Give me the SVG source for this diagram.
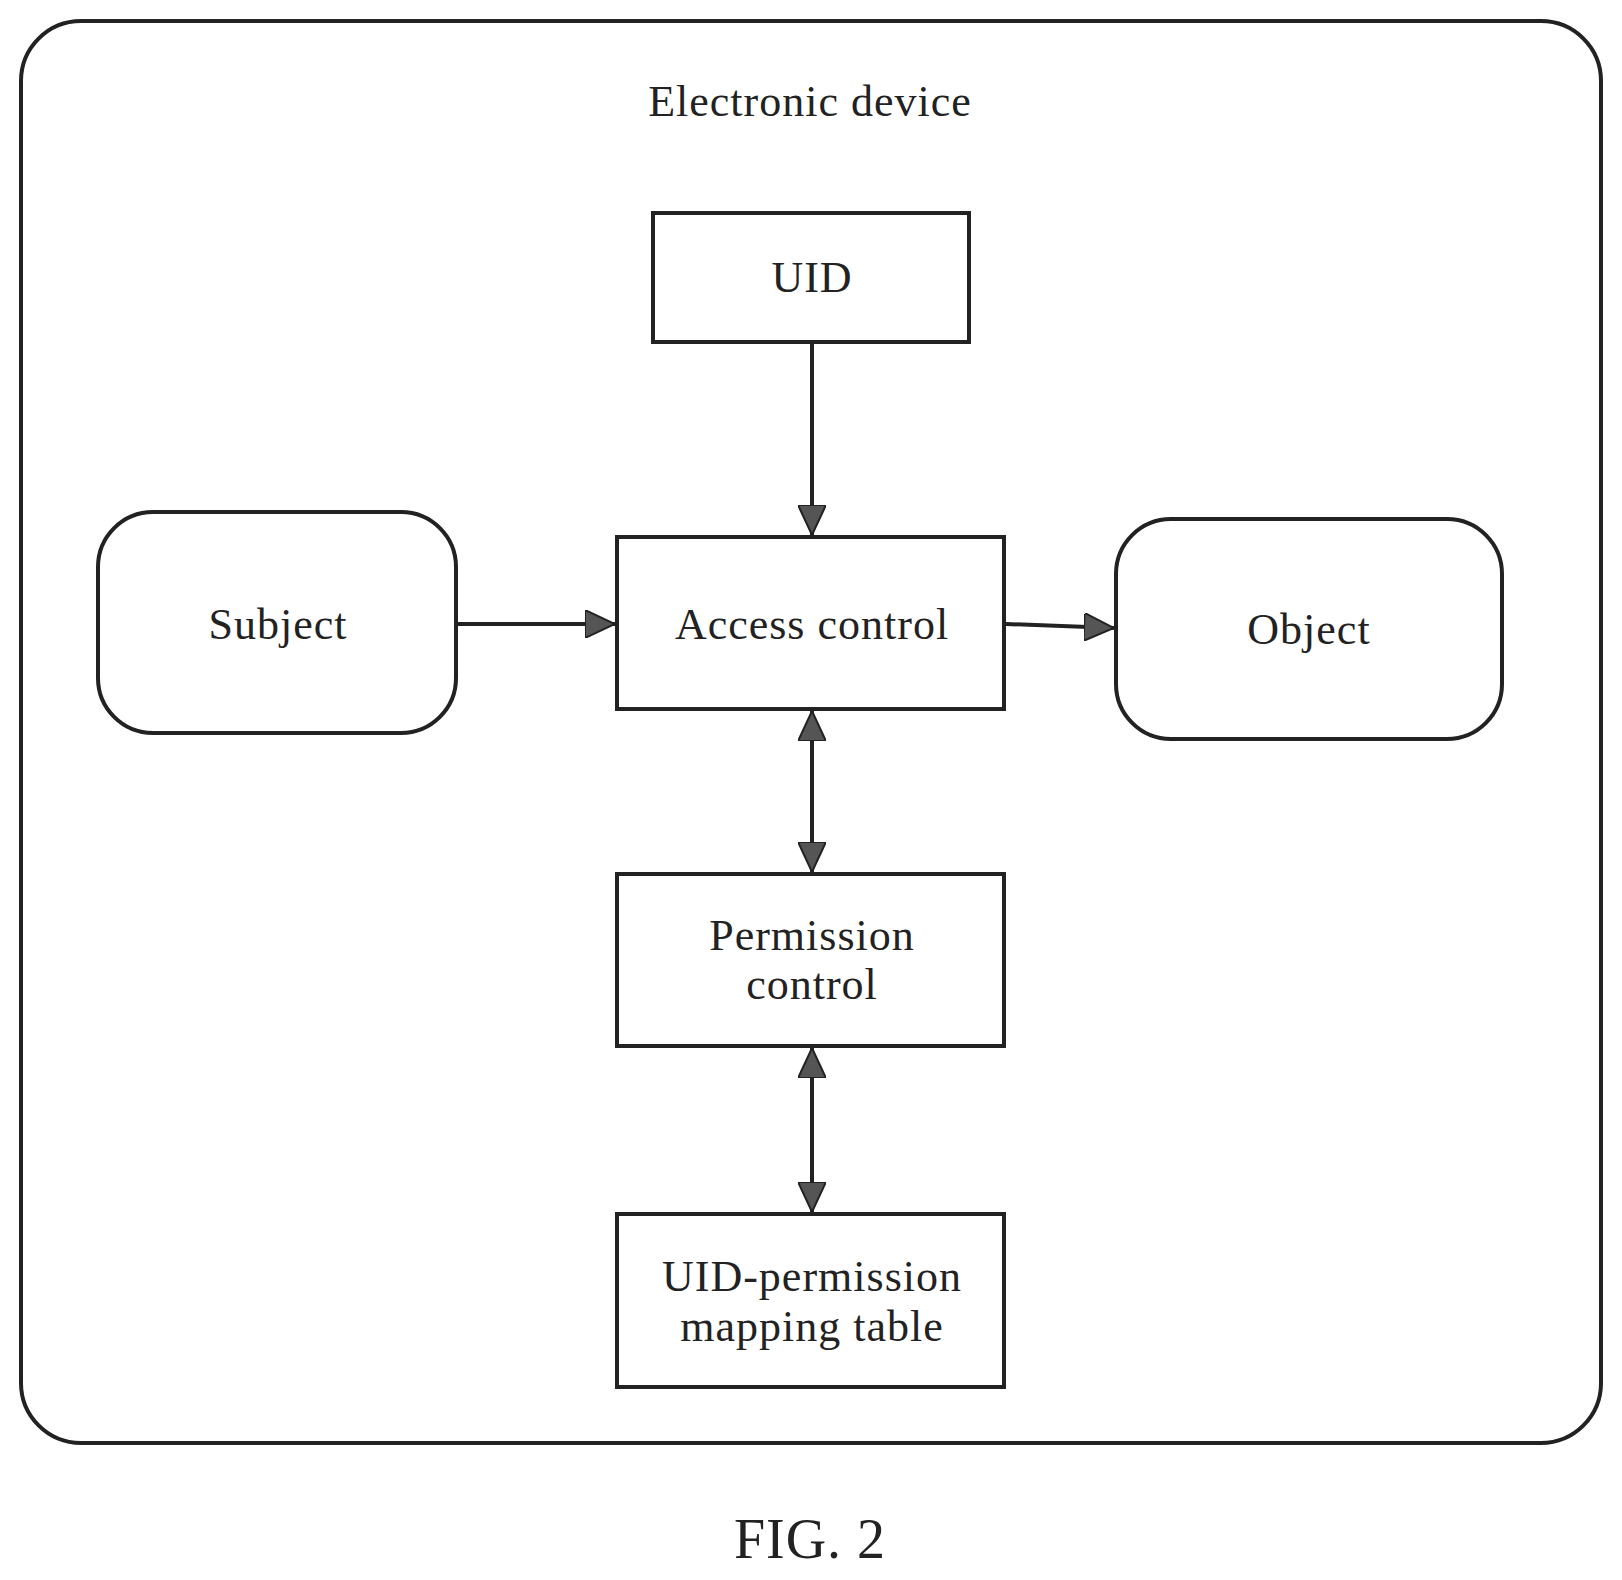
<svg xmlns="http://www.w3.org/2000/svg" width="1622" height="1580" viewBox="0 0 1622 1580">
<style>
.b{fill:none;stroke:#222;stroke-width:4}
.t{font-family:"Liberation Serif",serif;font-size:44px;letter-spacing:1px;fill:#222;text-anchor:middle}
.c{stroke:#222;stroke-width:4;fill:none}
</style>
<defs>
<marker id="m" viewBox="0 0 30 28" refX="30" refY="14" markerWidth="30" markerHeight="28" orient="auto-start-reverse" markerUnits="userSpaceOnUse">
<path d="M0,0 L30,14 L0,28 z" fill="#555" stroke="#222" stroke-width="2"/>
</marker>
</defs>
<rect width="1622" height="1580" fill="#fff"/>
<g id="device"><rect class="b" x="21" y="21" width="1580" height="1422" rx="60"/>
<text class="t" x="810" y="116">Electronic device</text></g>
<g id="uid"><rect class="b" x="653" y="213" width="316" height="129"/><text class="t" x="812" y="292">UID</text></g>
<g id="access"><rect class="b" x="617" y="537" width="387" height="172"/><text class="t" x="812" y="639">Access control</text></g>
<g id="subject"><rect class="b" x="98" y="512" width="358" height="221" rx="55"/><text class="t" x="278" y="639">Subject</text></g>
<g id="object"><rect class="b" x="1116" y="519" width="386" height="220" rx="55"/><text class="t" x="1309" y="644">Object</text></g>
<g id="permission"><rect class="b" x="617" y="874" width="387" height="172"/><text class="t" x="812" y="950">Permission</text><text class="t" x="812" y="999">control</text></g>
<g id="mapping"><rect class="b" x="617" y="1214" width="387" height="173"/><text class="t" x="812" y="1291">UID-permission</text><text class="t" x="812" y="1341">mapping table</text></g>
<g id="connectors">
<line class="c" x1="812" y1="342" x2="812" y2="535" marker-end="url(#m)"/>
<line class="c" x1="456" y1="624" x2="615" y2="624" marker-end="url(#m)"/>
<line class="c" x1="1006" y1="624" x2="1114" y2="628" marker-end="url(#m)"/>
<line class="c" x1="812" y1="711" x2="812" y2="872" marker-start="url(#m)" marker-end="url(#m)"/>
<line class="c" x1="812" y1="1048" x2="812" y2="1212" marker-start="url(#m)" marker-end="url(#m)"/>
</g>
<text class="t" x="810" y="1558" style="font-size:56px">FIG. 2</text>
</svg>
